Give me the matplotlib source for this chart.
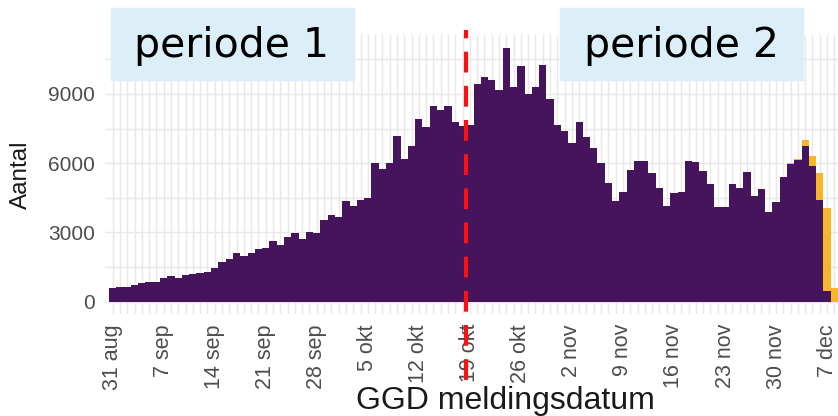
import matplotlib.pyplot as plt
from matplotlib.patches import Rectangle

# daily case counts, 31 aug .. 8 dec (day index 0..99)
gemeld = [577, 650, 650, 720, 794, 837, 866, 1039, 1125, 1010,
          1154, 1200, 1250, 1280, 1480, 1732, 1830, 2130, 2000, 2092,
          2294, 2323, 2630, 2450, 2814, 2995, 2698, 3025, 2995, 3535,
          3752, 3650, 4358, 4156, 4390, 4495, 6025, 5729, 5988, 7160,
          6170, 6745, 7920, 7576, 8485, 8297, 8470, 7770, 7619, 7648,
          9415, 9730, 9596, 9150, 10990, 9307, 10202, 8990, 9307, 10245,
          8759, 7648, 7403, 6854, 7792, 7114, 6638, 6017, 5123, 4358,
          4762, 5700, 6104, 6104, 5556, 4935, 4141, 4690, 4733, 6104,
          6061, 5671, 5094, 4113, 4084, 5094, 4906, 5628, 4574, 4877,
          3896, 4300, 5382, 5950, 6140, 6753, 5880, 4385, 476, 0]
# extra (not yet complete) counts on the last days
nog = [0] * 93 + [60, 60, 230, 410, 1200, 3565, 577]

dagen = list(range(len(gemeld)))
tick_pos = list(range(0, 99, 7))
tick_labels = ['31 aug', '7 sep', '14 sep', '21 sep', '28 sep', '5 okt', '12 okt',
               '19 okt', '26 okt', '2 nov', '9 nov', '16 nov', '23 nov', '30 nov', '7 dec']
y_ticks = [0, 3000, 6000, 9000]

paars = '#45145D'
geel = '#F7B52C'
grid = '#E8E8E8'

fig = plt.figure(figsize=(8.38, 4.16), dpi=100)
ax = fig.add_axes([105 / 838, 1 - 314.4 / 416, 733 / 838, 279.4 / 416])

# grid
for d in dagen:
    ax.axvline(d, color=grid, lw=1.0, zorder=0)
for h in range(0, 12000, 1500):
    ax.axhline(h, color=grid, lw=1.0, zorder=0)

ax.bar(dagen, gemeld, width=1.0, color=paars, zorder=2)
ax.bar(dagen, nog, width=1.0, bottom=gemeld, color=geel, zorder=2)

ax.set_xlim(-1.05, 99.5)
ax.set_ylim(-550, 11550)
for s in ax.spines.values():
    s.set_visible(False)

ax.set_xticks(tick_pos)
ax.set_xticklabels(tick_labels, rotation=90, family='Liberation Sans',
                   fontsize=15.5, color='#4D4D4D')
ax.set_yticks(y_ticks)
ax.set_yticklabels([str(v) for v in y_ticks], family='Liberation Sans',
                   fontsize=15, color='#4D4D4D')
ax.tick_params(axis='both', length=0)
ax.tick_params(axis='x', pad=7)
ax.tick_params(axis='y', pad=7)

ax.set_ylabel('Aantal', family='Liberation Sans', fontsize=17.5, color='#1A1A1A')
ax.yaxis.set_label_coords(-0.1, 0.5)
fig.text(505 / 838, 1 - 401 / 416, 'GGD meldingsdatum', family='Liberation Sans',
         fontsize=23, color='#1A1A1A', ha='center', va='center')

# split between the two periods
ax.axvline(48.5, ymin=-0.235, ymax=1.018, color='#FF1010', lw=3,
           dashes=(5, 3.2), clip_on=False, zorder=5)

# period boxes
for x0, label in [(111, 'periode 1'), (560, 'periode 2')]:
    fig.add_artist(Rectangle((x0 / 838, 1 - 80 / 416), 243 / 838, 72 / 416,
                             transform=fig.transFigure, color='#DCEEF8', zorder=10))
    fig.text((x0 + 121) / 838, 1 - 46 / 416, label, fontsize=29.5,
             family='DejaVu Sans', ha='center', va='center', zorder=11)

plt.savefig('out.png', dpi=100)
